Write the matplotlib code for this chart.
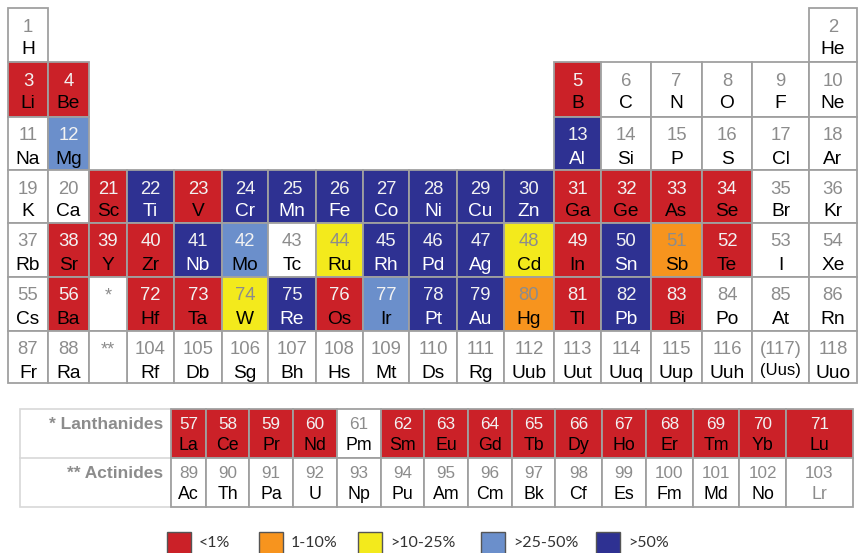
import matplotlib
matplotlib.use("Agg")
import matplotlib.pyplot as plt
from matplotlib.patches import Rectangle

# ---------------- data ----------------
symbols = ["H", "He", "Li", "Be", "B", "C", "N", "O", "F", "Ne",
           "Na", "Mg", "Al", "Si", "P", "S", "Cl", "Ar",
           "K", "Ca", "Sc", "Ti", "V", "Cr", "Mn", "Fe", "Co", "Ni", "Cu", "Zn",
           "Ga", "Ge", "As", "Se", "Br", "Kr",
           "Rb", "Sr", "Y", "Zr", "Nb", "Mo", "Tc", "Ru", "Rh", "Pd", "Ag", "Cd",
           "In", "Sn", "Sb", "Te", "I", "Xe",
           "Cs", "Ba", "La", "Ce", "Pr", "Nd", "Pm", "Sm", "Eu", "Gd", "Tb", "Dy",
           "Ho", "Er", "Tm", "Yb", "Lu", "Hf", "Ta", "W", "Re", "Os", "Ir", "Pt",
           "Au", "Hg", "Tl", "Pb", "Bi", "Po", "At", "Rn",
           "Fr", "Ra", "Ac", "Th", "Pa", "U", "Np", "Pu", "Am", "Cm", "Bk", "Cf",
           "Es", "Fm", "Md", "No", "Lr", "Rf", "Db", "Sg", "Bh", "Hs", "Mt", "Ds",
           "Rg", "Uub", "Uut", "Uuq", "Uup", "Uuh", "(Uus)", "Uuo"]

# end-of-life recycling rate classes
lt1 = ["Li", "Be", "B", "Sc", "V", "Ga", "Ge", "As", "Se", "Sr", "Y", "Zr",
       "In", "Te", "Ba", "Hf", "Ta", "Os", "Tl", "Bi",
       "La", "Ce", "Pr", "Nd", "Sm", "Eu", "Gd", "Tb", "Dy", "Ho", "Er", "Tm", "Yb", "Lu"]
r1_10 = ["Sb", "Hg"]
r10_25 = ["Ru", "Cd", "W"]
r25_50 = ["Mg", "Mo", "Ir"]
gt50 = ["Al", "Ti", "Cr", "Mn", "Fe", "Co", "Ni", "Cu", "Zn", "Nb", "Rh", "Pd",
        "Ag", "Sn", "Re", "Pt", "Au", "Pb"]

legend_labels = ["<1%", "1-10%", ">10-25%", ">25-50%", ">50%"]
row_labels = ["* Lanthanides", "** Actinides"]

# ---------------- styles / layout ----------------
classes = [lt1, r1_10, r10_25, r25_50, gt50]
class_colors = ["#CB2128", "#F7941E", "#F3EA1C", "#6B8FCB", "#2E3192"]
number_colors = ["#F2F2F2", "#8C8C8C", "#8C8C8C", "#F2F2F2", "#F2F2F2"]
symbol_colors = ["black", "black", "black", "black", "white"]
GRAY = "#8C8C8C"
EDGE = "#A0A0A0"
FONT = "Liberation Sans"

col_edges = [8, 48, 89, 127, 174, 222, 268, 316, 363, 409, 457, 504, 554, 601,
             651, 702, 752, 809, 857]
row_edges = [8, 62, 117, 170, 223, 277, 331, 383]
fblock_edges = [171, 206, 249, 293, 337, 381, 424, 468, 512, 555, 602, 646,
                693, 739, 786, 853]
fblock_rows = [409, 458, 507]


def cls_of(sym):
    for i, c in enumerate(classes):
        if sym in c:
            return i
    return None


def position(z):
    """Return (kind, row, col) in the table for atomic number z."""
    if z == 1:
        return ("main", 0, 0)
    if z == 2:
        return ("main", 0, 17)
    if 3 <= z <= 4:
        return ("main", 1, z - 3)
    if 5 <= z <= 10:
        return ("main", 1, z - 5 + 12)
    if 11 <= z <= 12:
        return ("main", 2, z - 11)
    if 13 <= z <= 18:
        return ("main", 2, z - 13 + 12)
    if 19 <= z <= 36:
        return ("main", 3, z - 19)
    if 37 <= z <= 54:
        return ("main", 4, z - 37)
    if 55 <= z <= 56:
        return ("main", 5, z - 55)
    if 57 <= z <= 71:
        return ("f", 0, z - 57)
    if 72 <= z <= 86:
        return ("main", 5, z - 72 + 3)
    if 87 <= z <= 88:
        return ("main", 6, z - 87)
    if 89 <= z <= 103:
        return ("f", 1, z - 89)
    return ("main", 6, z - 104 + 3)


fig = plt.figure(figsize=(8.58, 5.53), dpi=100)
ax = fig.add_axes([0, 0, 1, 1])
ax.set_xlim(0, 858)
ax.set_ylim(553, 0)
ax.axis("off")

# label box of the f-block
ax.add_patch(Rectangle((20, fblock_rows[0]), fblock_edges[0] - 20,
                       fblock_rows[2] - fblock_rows[0], facecolor="white",
                       edgecolor="#D8D8D8", lw=1.2, zorder=1))
ax.plot([20, fblock_edges[0]], [fblock_rows[1]] * 2, color="#D8D8D8", lw=1.2, zorder=1)
for i, lab in enumerate(row_labels):
    ax.text(163, fblock_rows[i] + 20, lab, ha="right", va="baseline",
            fontsize=12.5, fontweight="bold", color=GRAY, family=FONT)


def draw_cell(x0, x1, y0, y1, num, sym, c, small=False):
    fc = "white" if c is None else class_colors[c]
    ax.add_patch(Rectangle((x0, y0), x1 - x0, y1 - y0, facecolor=fc,
                           edgecolor=EDGE, lw=1.3, zorder=2))
    ncol = GRAY if c is None else number_colors[c]
    scol = "black" if c is None else symbol_colors[c]
    if sym == "Lr":
        scol = GRAY
    xc = (x0 + x1) / 2
    fs_n = 12.3 if small else 13.3
    fs_s = 12.8 if small else 13.8
    nb = 20 if small else 23.5
    sb = 41 if small else 46.5
    ax.text(xc, y0 + nb, num, ha="center", va="baseline", fontsize=fs_n,
            color=ncol, family=FONT, zorder=3)
    if sym == "(Uus)":
        ax.text(xc, y0 + sb - 2.5, sym, ha="center", va="baseline", fontsize=12,
                color=scol, family=FONT, zorder=3)
    else:
        ax.text(xc, y0 + sb, sym, ha="center", va="baseline", fontsize=fs_s,
                color=scol, family=FONT, zorder=3)


for z, sym in enumerate(symbols, start=1):
    kind, r, col = position(z)
    c = cls_of(sym)
    num = "(117)" if z == 117 else str(z)
    if kind == "main":
        draw_cell(col_edges[col], col_edges[col + 1], row_edges[r], row_edges[r + 1],
                  num, sym, c)
    else:
        draw_cell(fblock_edges[col], fblock_edges[col + 1], fblock_rows[r],
                  fblock_rows[r + 1], num, sym, c, small=True)

# placeholder cells for lanthanides / actinides
for r, mark in ((5, "*"), (6, "**")):
    x0, x1 = col_edges[2], col_edges[3]
    ax.add_patch(Rectangle((x0, row_edges[r]), x1 - x0, row_edges[r + 1] - row_edges[r],
                           facecolor="white", edgecolor=EDGE, lw=1.3, zorder=2))
    ax.text((x0 + x1) / 2, row_edges[r] + 23.5, mark, ha="center", va="baseline",
            fontsize=13, color=GRAY, family=FONT, zorder=3)

# legend
leg_x = [167, 259, 358, 481, 596]
for i, lab in enumerate(legend_labels):
    ax.add_patch(Rectangle((leg_x[i], 532), 24, 30, facecolor=class_colors[i],
                           edgecolor="#555555", lw=1.0, zorder=2, clip_on=True))
    ax.text(leg_x[i] + 32, 543, lab, ha="left", va="center", fontsize=11.5,
            color="#333333", family="Lato")

fig.savefig("out.png", dpi=100)
